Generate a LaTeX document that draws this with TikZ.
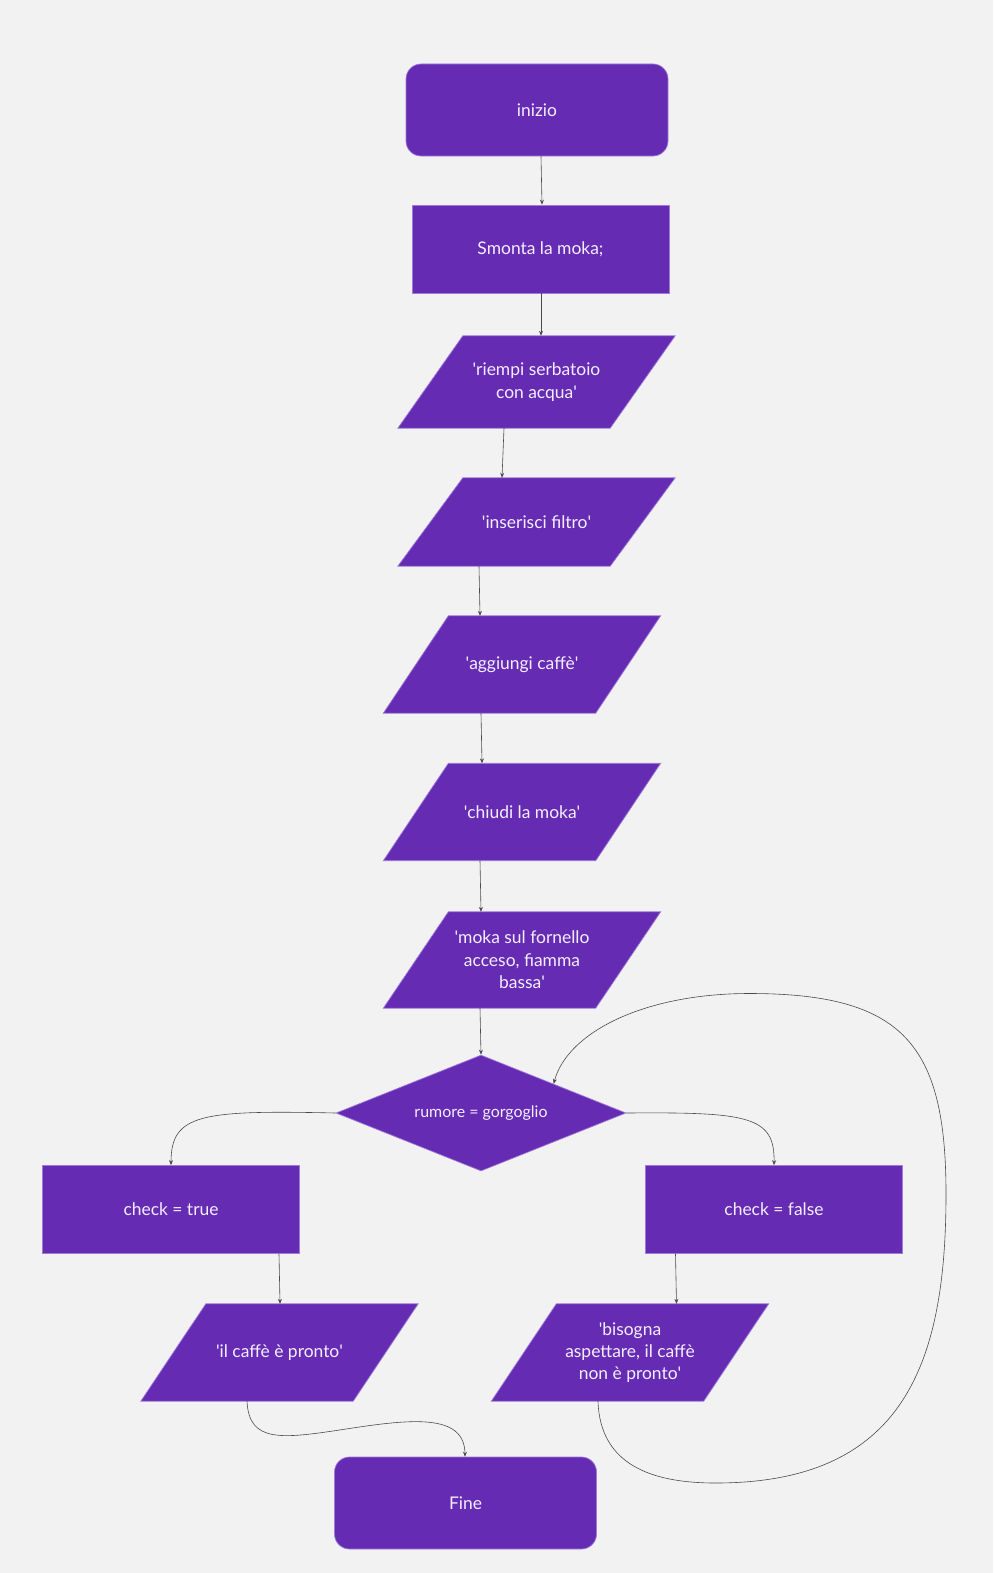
\documentclass[tikz,border=0pt]{standalone}
\usepackage{fontspec}
\setmainfont{Lato}
\usetikzlibrary{shapes.geometric,arrows.meta}
\pgfdeclarelayer{background}
\pgfsetlayers{background,main}
\definecolor{viola}{HTML}{652CB3}
\definecolor{bordo}{HTML}{9F7AD9}
\definecolor{sfondo}{HTML}{F2F2F2}
\definecolor{filo}{HTML}{4A4A4A}
\definecolor{testo}{HTML}{F4EEFF}
\newcommand{\ap}{\textquotesingle}
\begin{document}
\begin{tikzpicture}[x=1bp, y=-1bp, font=\fontsize{17.5}{22.5}\selectfont, line join=round, line cap=round, >={Stealth[length=5pt,width=4pt]}]
	\tikzset{blocco/.style={fill=viola, draw=bordo, line width=0.7pt, text=testo, align=center, inner sep=0pt},
		terminale/.style={blocco, rounded corners=15bp, minimum width=262bp, minimum height=92bp},
		azione/.style={blocco, minimum width=257bp, minimum height=88bp},
		dato/.style={text=testo, align=center, inner sep=0pt, minimum width=212bp, minimum height=97bp},
		scelta/.style={blocco, diamond, aspect=2.5, minimum width=290bp, minimum height=116bp, font=\fontsize{16}{20}\selectfont},
		freccia/.style={->, draw=filo, line width=0.6pt}}
	\useasboundingbox (0,0) rectangle (993,1573);
	\node[terminale] (inizio) at (537,110) {inizio};
	\node[azione] (smonta) at (540.5,249) {Smonta la moka;};
	\node[dato, minimum height=92bp] (riempi) at (536.5,382) {\ap riempi serbatoio\\ con acqua\ap};
	\node[dato, minimum height=88bp] (filtro) at (536.5,522) {\ap inserisci filtro\ap};
	\node[dato] (caffe) at (522,664.5) {\ap aggiungi caffè\ap};
	\node[dato] (chiudi) at (522,812) {\ap chiudi la moka\ap};
	\node[dato, minimum height=96bp] (fornello) at (522,960) {\ap moka sul fornello\\ acceso, fiamma\\ bassa\ap};
	\node[scelta] (rumore) at (481,1113) {rumore = gorgoglio};
	\node[azione] (vero) at (171,1209.5) {check = true};
	\node[azione] (falso) at (774,1209.5) {check = false};
	\node[dato] (pronto) at (279.5,1352.5) {\ap il caffè è pronto\ap};
	\node[dato] (aspetta) at (630,1352.5) {\ap bisogna\\ aspettare, il caffè\\ non è pronto\ap};
	\node[terminale] (fine) at (465.5,1503) {Fine};
	\begin{pgfonlayer}{background}
		\fill[sfondo] (0,0) rectangle (993,1573);
		\foreach \n in {riempi,filtro,caffe,chiudi,fornello,pronto,aspetta}
		\filldraw[blocco] ([xshift=32.5bp]\n.north west) -- ([xshift=32.5bp]\n.north east) -- ([xshift=-32.5bp]\n.south east) -- ([xshift=-32.5bp]\n.south west) -- cycle;
	\end{pgfonlayer}
	\draw[freccia] (inizio.south -| 541,0) -- (smonta.north -| 542,0);
	\draw[freccia] (smonta.south -| 541,0) -- (riempi.north -| 541,0);
	\draw[freccia] (riempi.south -| 504,0) -- (filtro.north -| 502,0);
	\draw[freccia] (filtro.south -| 479,0) -- (caffe.north -| 480,0);
	\draw[freccia] (caffe.south -| 481,0) -- (chiudi.north -| 482,0);
	\draw[freccia] (chiudi.south -| 480,0) -- (fornello.north -| 481,0);
	\draw[freccia] (fornello.south -| 480,0) -- (rumore.north);
	\draw[freccia] (rumore.west) .. controls (201,1110) and (171,1114) .. (vero.north);
	\draw[freccia] (rumore.east) .. controls (748,1112) and (775,1116) .. (falso.north);
	\draw[freccia] (vero.south -| 279,0) -- (pronto.north -| 280,0);
	\draw[freccia] (falso.south -| 675.5,0) -- (aspetta.north -| 676.5,0);
	\draw[freccia] (pronto.south -| 247,0) .. controls (249,1443) and (281,1439) .. (346,1429) .. controls (411,1419) and (464.5,1413) .. (fine.north -| 465,0);
	\draw[freccia] (aspetta.south -| 598,0) .. controls (600,1465) and (652,1483) .. (715.5,1483) .. controls (903,1483) and (946,1365) .. (946,1194) .. controls (946,1044) and (903,993.5) .. (749.5,993.5) .. controls (642,993.5) and (567,1033.5) .. (rumore.north east);
\end{tikzpicture}
\end{document}
